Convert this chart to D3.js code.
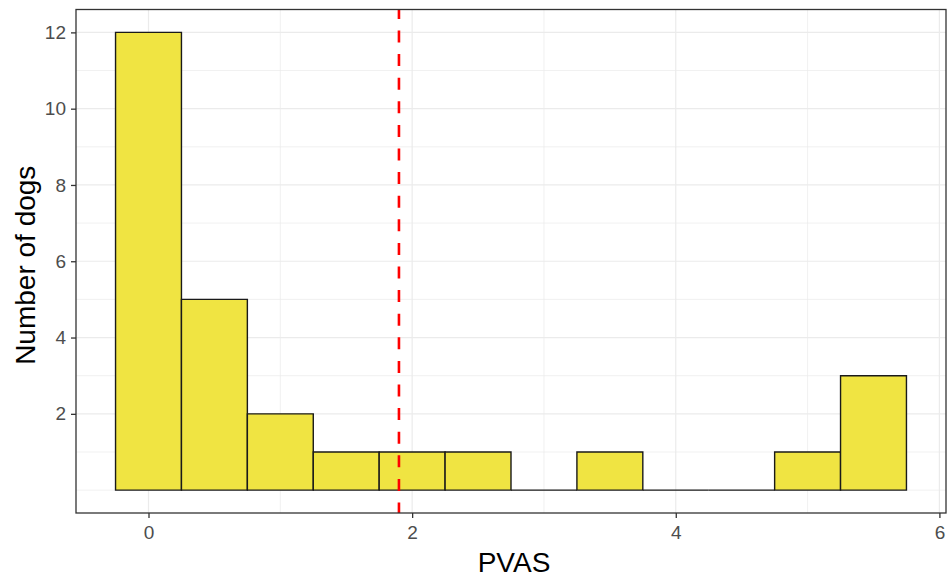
<!DOCTYPE html>
<html>
<head>
<meta charset="utf-8">
<script src="https://cdn.jsdelivr.net/npm/d3@7"></script>
<style>
  body { margin: 0; background: #fff; }
  text { font-family: "Liberation Sans", Arial, sans-serif; }
</style>
</head>
<body>
<div id="chart"></div>
<script>
// bin centres (PVAS), width 0.5
const binCentres = [0, 0.5, 1, 1.5, 2, 2.5, 3, 3.5, 4, 4.5, 5, 5.5];
const counts = [12, 5, 2, 1, 1, 1, 0, 1, 0, 0, 1, 3];
const binWidth = 0.5;
const xTicks = [0, 2, 4, 6];
const yTicks = [2, 4, 6, 8, 10, 12];
const meanLine = 1.9;

const width = 950, height = 581;
const margin = {left: 76, right: 4, top: 9.5, bottom: 68};

const svg = d3.select("#chart").append("svg")
    .attr("width", width)
    .attr("height", height);

const x = d3.scaleLinear()
    .domain([-0.55, 6.05])
    .range([margin.left, width - margin.right]);
const y = d3.scaleLinear()
    .domain([-0.6, 12.6])
    .range([height - margin.bottom, margin.top]);

// grid
const grid = svg.append("g");
grid.selectAll(".gx")
    .data(d3.range(0, 7, 1))
    .enter().append("line")
    .attr("x1", d => x(d)).attr("x2", d => x(d))
    .attr("y1", y.range()[0]).attr("y2", y.range()[1])
    .attr("stroke", "#ebebeb")
    .attr("stroke-width", d => d % 2 === 0 ? 1.2 : 0.7);
grid.selectAll(".gy")
    .data(d3.range(0, 13, 1))
    .enter().append("line")
    .attr("y1", d => y(d)).attr("y2", d => y(d))
    .attr("x1", x.range()[0]).attr("x2", x.range()[1])
    .attr("stroke", "#ebebeb")
    .attr("stroke-width", d => (d % 2 === 0 && d > 0) ? 1.2 : 0.7);

// bars; each bin drawn as a closed path so zero-count bins show as a flat line
const barPath = (d, i) => {
    const x0 = x(d - binWidth / 2), x1 = x(d + binWidth / 2);
    const y0 = y(0), y1 = y(counts[i]);
    return "M" + x0 + "," + y0 + "L" + x0 + "," + y1 + "L" + x1 + "," + y1 + "L" + x1 + "," + y0 + "Z";
};
svg.append("g").selectAll("path")
    .data(binCentres)
    .enter().append("path")
    .attr("d", barPath)
    .attr("fill", "#F0E442")
    .attr("stroke", "#1a1a1a")
    .attr("stroke-width", 1.4);

// mean line
svg.append("line")
    .attr("x1", x(meanLine)).attr("x2", x(meanLine))
    .attr("y1", y.range()[0]).attr("y2", y.range()[1])
    .attr("stroke", "#ff0000")
    .attr("stroke-width", 2.6)
    .attr("stroke-dasharray", "12,11.6")
    .attr("stroke-dashoffset", 1.5);

// panel border
svg.append("rect")
    .attr("x", margin.left).attr("y", margin.top)
    .attr("width", width - margin.left - margin.right)
    .attr("height", height - margin.top - margin.bottom)
    .attr("fill", "none")
    .attr("stroke", "#333333")
    .attr("stroke-width", 1.3);

// axes
const xAxis = d3.axisBottom(x).tickValues(xTicks).tickSize(5).tickPadding(8).tickFormat(d3.format("d"));
const yAxis = d3.axisLeft(y).tickValues(yTicks).tickSize(5).tickPadding(5).tickFormat(d3.format("d"));

const gx = svg.append("g")
    .attr("transform", "translate(0," + (height - margin.bottom) + ")")
    .call(xAxis);
const gy = svg.append("g")
    .attr("transform", "translate(" + margin.left + ",0)")
    .call(yAxis);

[gx, gy].forEach(g => {
    g.select(".domain").remove();
    g.selectAll(".tick line").attr("stroke", "#333333").attr("stroke-width", 1.3);
    g.selectAll(".tick text")
        .attr("fill", "#4d4d4d")
        .style("font-size", "19px")
        .style("font-family", "'Liberation Sans', Arial, sans-serif");
});

// titles
svg.append("text")
    .attr("x", (margin.left + width - margin.right) / 2 + 3)
    .attr("y", 572)
    .attr("text-anchor", "middle")
    .style("font-size", "28px")
    .text("PVAS");
svg.append("text")
    .attr("transform", "translate(35," + ((margin.top + height - margin.bottom) / 2 + 4) + ") rotate(-90)")
    .attr("text-anchor", "middle")
    .style("font-size", "28px")
    .text("Number of dogs");
</script>
</body>
</html>
